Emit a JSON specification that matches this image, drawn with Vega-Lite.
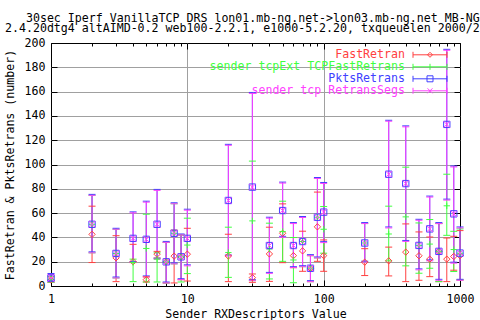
{
  "$schema": "https://vega.github.io/schema/vega-lite/v6.json",
  "width": 409,
  "height": 243,
  "autosize": {"type": "none"},
  "padding": {"left": 51, "top": 43, "right": 20, "bottom": 34},
  "config": {
    "font": "DejaVu Sans Mono",
    "view": {"stroke": "black", "strokeWidth": 1},
    "axis": {
      "labelFont": "DejaVu Sans Mono", "labelFontSize": 11.6, "labelColor": "black",
      "titleFont": "DejaVu Sans Mono", "titleFontSize": 11.6, "titleFontWeight": "normal", "titleColor": "black",
      "tickColor": "black", "tickWidth": 1, "gridColor": "#a0a0a0", "gridWidth": 1, "domain": false,
      "labelFlush": false, "labelOverlap": false, "labelBound": false
    }
  },
  "title": {
    "text": ["\u200b\u00a0\u00a0\u00a030sec Iperf VanillaTCP DRS lon01.mb-ng.net->lon03.mb-ng.net MB-NG", "2.4.20dtg4 altAIMD-0.2 web100-2.2.1, e1000-5.2.20, txqueuelen 2000/2"],
    "anchor": "start", "frame": "group", "dx": -46, "offset": 2,
    "font": "DejaVu Sans Mono", "fontSize": 11.6, "fontWeight": "normal", "color": "black", "lineHeight": 10.7
  },
  "data": {"values": [
    {"x":1,"s":"FastRetran","y":5,"lo":3,"hi":7.5},
    {"x":2,"s":"FastRetran","y":42.5,"lo":19.3,"hi":65.7},
    {"x":3,"s":"FastRetran","y":23.2,"lo":3.6,"hi":41.4},
    {"x":4,"s":"FastRetran","y":20,"lo":19.3,"hi":34.3},
    {"x":5,"s":"FastRetran","y":5.2,"lo":3.3,"hi":7.5},
    {"x":6,"s":"FastRetran","y":26.2,"lo":23,"hi":28.5},
    {"x":7,"s":"FastRetran","y":19.9,"lo":2.5,"hi":35.9},
    {"x":8,"s":"FastRetran","y":24.6,"lo":2.5,"hi":46},
    {"x":9,"s":"FastRetran","y":24,"lo":5.2,"hi":42},
    {"x":10,"s":"FastRetran","y":26.2,"lo":4.1,"hi":47.5},
    {"x":20,"s":"FastRetran","y":24.7,"lo":3.6,"hi":42.6},
    {"x":30,"s":"FastRetran","y":6.9,"lo":3,"hi":9.9},
    {"x":40,"s":"FastRetran","y":26.4,"lo":3.8,"hi":48.4},
    {"x":50,"s":"FastRetran","y":43.4,"lo":19.2,"hi":67.6},
    {"x":60,"s":"FastRetran","y":25,"lo":15.1,"hi":39.9},
    {"x":70,"s":"FastRetran","y":28.9,"lo":12.1,"hi":45.1},
    {"x":80,"s":"FastRetran","y":14.6,"lo":3.6,"hi":25},
    {"x":90,"s":"FastRetran","y":48.7,"lo":20.3,"hi":77.3},
    {"x":100,"s":"FastRetran","y":25,"lo":12.1,"hi":37.9},
    {"x":200,"s":"FastRetran","y":19.6,"lo":8.6,"hi":30.7},
    {"x":300,"s":"FastRetran","y":20.7,"lo":8.3,"hi":32},
    {"x":400,"s":"FastRetran","y":27.9,"lo":3.6,"hi":51.1},
    {"x":500,"s":"FastRetran","y":24.9,"lo":4.7,"hi":44.5},
    {"x":600,"s":"FastRetran","y":22.1,"lo":7.7,"hi":40.3},
    {"x":700,"s":"FastRetran","y":28.5,"lo":3.6,"hi":51.4},
    {"x":800,"s":"FastRetran","y":22.1,"lo":3.6,"hi":39.5},
    {"x":900,"s":"FastRetran","y":24.3,"lo":13,"hi":40.9},
    {"x":1000,"s":"FastRetran","y":25,"lo":5,"hi":45.6},

    {"x":1,"s":"sender tcpExt TCPFastRetrans","y":5.5,"lo":3,"hi":8},
    {"x":2,"s":"sender tcpExt TCPFastRetrans","y":50.8,"lo":27.3,"hi":74.6},
    {"x":3,"s":"sender tcpExt TCPFastRetrans","y":26.8,"lo":6.6,"hi":46.7},
    {"x":4,"s":"sender tcpExt TCPFastRetrans","y":19.3,"lo":3.6,"hi":22.1},
    {"x":5,"s":"sender tcpExt TCPFastRetrans","y":30.9,"lo":3.3,"hi":59.1},
    {"x":6,"s":"sender tcpExt TCPFastRetrans","y":22.1,"lo":3.3,"hi":27.3},
    {"x":7,"s":"sender tcpExt TCPFastRetrans","y":19.9,"lo":2.5,"hi":35.9},
    {"x":8,"s":"sender tcpExt TCPFastRetrans","y":43.4,"lo":18.2,"hi":67.7},
    {"x":9,"s":"sender tcpExt TCPFastRetrans","y":24,"lo":3.3,"hi":42},
    {"x":10,"s":"sender tcpExt TCPFastRetrans","y":33.7,"lo":10.2,"hi":55.8},
    {"x":20,"s":"sender tcpExt TCPFastRetrans","y":27.5,"lo":7.1,"hi":48.4},
    {"x":30,"s":"sender tcpExt TCPFastRetrans","y":53.6,"lo":4.4,"hi":102.8},
    {"x":40,"s":"sender tcpExt TCPFastRetrans","y":30.5,"lo":5.8,"hi":51.7},
    {"x":50,"s":"sender tcpExt TCPFastRetrans","y":44.8,"lo":20.3,"hi":69.8},
    {"x":60,"s":"sender tcpExt TCPFastRetrans","y":21.4,"lo":2.7,"hi":39.9},
    {"x":70,"s":"sender tcpExt TCPFastRetrans","y":36.6,"lo":15.9,"hi":56.4},
    {"x":80,"s":"sender tcpExt TCPFastRetrans","y":14.6,"lo":3.6,"hi":25},
    {"x":90,"s":"sender tcpExt TCPFastRetrans","y":56.6,"lo":23.1,"hi":88.5},
    {"x":100,"s":"sender tcpExt TCPFastRetrans","y":46.7,"lo":27,"hi":65.4},
    {"x":200,"s":"sender tcpExt TCPFastRetrans","y":35.4,"lo":19.6,"hi":51.4},
    {"x":300,"s":"sender tcpExt TCPFastRetrans","y":42.8,"lo":20.7,"hi":65.7},
    {"x":400,"s":"sender tcpExt TCPFastRetrans","y":56.9,"lo":16.6,"hi":97.8},
    {"x":500,"s":"sender tcpExt TCPFastRetrans","y":33.4,"lo":10.5,"hi":51.9},
    {"x":600,"s":"sender tcpExt TCPFastRetrans","y":34.5,"lo":14.6,"hi":54.7},
    {"x":700,"s":"sender tcpExt TCPFastRetrans","y":28.5,"lo":3.6,"hi":51.4},
    {"x":800,"s":"sender tcpExt TCPFastRetrans","y":66,"lo":41.7,"hi":92},
    {"x":900,"s":"sender tcpExt TCPFastRetrans","y":30,"lo":11.9,"hi":45},
    {"x":1000,"s":"sender tcpExt TCPFastRetrans","y":27,"lo":5,"hi":47},

    {"x":1,"s":"PktsRetrans","y":6.5,"lo":4.3,"hi":10.3},
    {"x":2,"s":"PktsRetrans","y":50.8,"lo":28.1,"hi":75.4},
    {"x":3,"s":"PktsRetrans","y":26.8,"lo":7.4,"hi":47.5},
    {"x":4,"s":"PktsRetrans","y":39.2,"lo":20.1,"hi":61},
    {"x":5,"s":"PktsRetrans","y":38.4,"lo":8.3,"hi":69.8},
    {"x":6,"s":"PktsRetrans","y":50.8,"lo":22.9,"hi":79.5},
    {"x":7,"s":"PktsRetrans","y":19.9,"lo":3.3,"hi":36.7},
    {"x":8,"s":"PktsRetrans","y":43.4,"lo":19,"hi":68.5},
    {"x":9,"s":"PktsRetrans","y":24,"lo":6,"hi":42.8},
    {"x":10,"s":"PktsRetrans","y":39.2,"lo":17.4,"hi":63.2},
    {"x":20,"s":"PktsRetrans","y":70.4,"lo":25.5,"hi":116.6},
    {"x":30,"s":"PktsRetrans","y":81.4,"lo":5.2,"hi":159.3},
    {"x":40,"s":"PktsRetrans","y":33.3,"lo":11.2,"hi":56.6},
    {"x":50,"s":"PktsRetrans","y":62.1,"lo":40.9,"hi":85.5},
    {"x":60,"s":"PktsRetrans","y":33.3,"lo":15.9,"hi":52.2},
    {"x":70,"s":"PktsRetrans","y":36.6,"lo":16.7,"hi":57.2},
    {"x":80,"s":"PktsRetrans","y":14.6,"lo":4.4,"hi":25.8},
    {"x":90,"s":"PktsRetrans","y":56.6,"lo":23.9,"hi":89.3},
    {"x":100,"s":"PktsRetrans","y":60.8,"lo":36.5,"hi":85.2},
    {"x":200,"s":"PktsRetrans","y":35.4,"lo":20.4,"hi":52.2},
    {"x":300,"s":"PktsRetrans","y":92,"lo":48.6,"hi":136.4},
    {"x":400,"s":"PktsRetrans","y":84.3,"lo":37.5,"hi":131.8},
    {"x":500,"s":"PktsRetrans","y":33.4,"lo":14.1,"hi":54.9},
    {"x":600,"s":"PktsRetrans","y":47,"lo":21.5,"hi":74},
    {"x":700,"s":"PktsRetrans","y":28.5,"lo":5.5,"hi":52.2},
    {"x":800,"s":"PktsRetrans","y":133,"lo":71.5,"hi":194.8},
    {"x":900,"s":"PktsRetrans","y":59.4,"lo":19.6,"hi":98.8},
    {"x":1000,"s":"PktsRetrans","y":27.1,"lo":5.5,"hi":48.6},

    {"x":1,"s":"sender tcp RetransSegs","y":6.5,"lo":3.5,"hi":9.5},
    {"x":2,"s":"sender tcp RetransSegs","y":50.8,"lo":27.3,"hi":74.6},
    {"x":3,"s":"sender tcp RetransSegs","y":26.8,"lo":6.6,"hi":46.7},
    {"x":4,"s":"sender tcp RetransSegs","y":39.2,"lo":19.3,"hi":60.2},
    {"x":5,"s":"sender tcp RetransSegs","y":38.4,"lo":7.5,"hi":69},
    {"x":6,"s":"sender tcp RetransSegs","y":50.8,"lo":22.1,"hi":78.7},
    {"x":7,"s":"sender tcp RetransSegs","y":19.9,"lo":2.5,"hi":35.9},
    {"x":8,"s":"sender tcp RetransSegs","y":43.4,"lo":18.2,"hi":67.7},
    {"x":9,"s":"sender tcp RetransSegs","y":24,"lo":5.2,"hi":42},
    {"x":10,"s":"sender tcp RetransSegs","y":39.2,"lo":16.6,"hi":62.4},
    {"x":20,"s":"sender tcp RetransSegs","y":70.4,"lo":24.7,"hi":115.8},
    {"x":30,"s":"sender tcp RetransSegs","y":81.4,"lo":4.4,"hi":158.5},
    {"x":40,"s":"sender tcp RetransSegs","y":33.3,"lo":10.4,"hi":55.8},
    {"x":50,"s":"sender tcp RetransSegs","y":62.1,"lo":40.1,"hi":84.7},
    {"x":60,"s":"sender tcp RetransSegs","y":33.3,"lo":15.1,"hi":51.4},
    {"x":70,"s":"sender tcp RetransSegs","y":36.6,"lo":15.9,"hi":56.4},
    {"x":80,"s":"sender tcp RetransSegs","y":14.6,"lo":3.6,"hi":25},
    {"x":90,"s":"sender tcp RetransSegs","y":56.6,"lo":23.1,"hi":88.5},
    {"x":100,"s":"sender tcp RetransSegs","y":60.8,"lo":35.7,"hi":84.4},
    {"x":200,"s":"sender tcp RetransSegs","y":35.4,"lo":19.6,"hi":51.4},
    {"x":300,"s":"sender tcp RetransSegs","y":92,"lo":47.8,"hi":135.6},
    {"x":400,"s":"sender tcp RetransSegs","y":84.3,"lo":36.7,"hi":131},
    {"x":500,"s":"sender tcp RetransSegs","y":33.4,"lo":13.3,"hi":54.1},
    {"x":600,"s":"sender tcp RetransSegs","y":47,"lo":20.7,"hi":73.2},
    {"x":700,"s":"sender tcp RetransSegs","y":28.5,"lo":4.7,"hi":51.4},
    {"x":800,"s":"sender tcp RetransSegs","y":133,"lo":70.7,"hi":194},
    {"x":900,"s":"sender tcp RetransSegs","y":59.4,"lo":18.8,"hi":98},
    {"x":1000,"s":"sender tcp RetransSegs","y":27.1,"lo":4.7,"hi":47.8}
  ]},
  "layer": [
    {
      "mark": {"type": "rule", "strokeWidth": 1},
      "encoding": {
        "x": {"field": "x", "type": "quantitative",
          "scale": {"type": "log", "domain": [1, 1000], "nice": false},
          "axis": {
            "title": "Sender RXDescriptors Value", "orient": "bottom",
            "values": [1,2,3,4,5,6,7,8,9,10,20,30,40,50,60,70,80,90,100,200,300,400,500,600,700,800,900,1000],
            "format": "d",
            "labelExpr": "(datum.value == 1 || datum.value == 10 || datum.value == 100 || datum.value == 1000) ? datum.label : ''",
            "tickSize": {"condition": {"test": "datum.value == 1 || datum.value == 10 || datum.value == 100 || datum.value == 1000", "value": -6}, "value": -3},
            "labelPadding": 13,
            "grid": true,
            "gridOpacity": {"condition": {"test": "datum.value == 10 || datum.value == 100", "value": 1}, "value": 0},
            "titleX": 204.5, "titleY": 31, "titleAlign": "center", "titleBaseline": "alphabetic"
          }
        },
        "y": {"field": "lo", "type": "quantitative",
          "scale": {"domain": [0, 200], "nice": false},
          "axis": {
            "title": "FastRetran & PktsRetrans (number)", "orient": "left",
            "values": [0,20,40,60,80,100,120,140,160,180,200],
            "tickSize": -6, "labelPadding": 12, "grid": true,
            "gridOpacity": {"condition": {"test": "datum.value == 0 || datum.value == 200", "value": 0}, "value": 1},
            "titleX": -37.5, "titleY": 121.5, "titleAngle": -90, "titleAlign": "center", "titleBaseline": "alphabetic"
          }
        },
        "y2": {"field": "hi"},
        "color": {
          "field": "s", "type": "nominal",
          "scale": {
            "domain": ["FastRetran", "sender tcpExt TCPFastRetrans", "PktsRetrans", "sender tcp RetransSegs"],
            "range": ["#ff4040", "#40ff40", "#4040ff", "#ff40ff"]
          },
          "legend": {
            "title": null, "orient": "none", "legendX": 379, "legendY": 6, "padding": 0, "rowPadding": -4,
            "labelFont": "DejaVu Sans Mono", "labelFontSize": 11.6, "symbolSize": 100, "labelLimit": 400,
            "encode": {
              "symbols": {"update": {
                "shape": {"signal": "datum.value === 'FastRetran' ? 'M-3.4,0H3.4M-3.4,-0.6V0.6M3.4,-0.6V0.6M0,-0.5L0.5,0L0,0.5L-0.5,0Z' : datum.value === 'sender tcpExt TCPFastRetrans' ? 'M-3.4,0H3.4M-3.4,-0.6V0.6M3.4,-0.6V0.6M0,-0.6V0.6' : datum.value === 'PktsRetrans' ? 'M-3.4,0H3.4M-3.4,-0.6V0.6M3.4,-0.6V0.6M-0.6,-0.6H0.6V0.6H-0.6Z' : 'M-3.4,0H3.4M-3.4,-0.6V0.6M3.4,-0.6V0.6M-0.5,-0.5L0.5,0.5M0.5,-0.5L-0.5,0.5'"},
                "fill": {"value": "transparent"},
                "strokeWidth": {"value": 1},
                "size": {"value": 100},
                "opacity": {"value": 1},
                "x": {"value": 0}
              }},
              "labels": {"update": {
                "fill": {"scale": "color", "field": "value"},
                "align": {"value": "right"},
                "x": {"value": -25}
              }}
            }
          }
        }
      }
    },
    {
      "mark": {"type": "rule", "strokeWidth": 1, "xOffset": -3.5, "x2Offset": 3.5},
      "encoding": {
        "x": {"field": "x", "type": "quantitative", "axis": null},
        "x2": {"field": "x"},
        "y": {"field": "lo", "type": "quantitative", "axis": null},
        "color": {"field": "s", "type": "nominal", "legend": null}
      }
    },
    {
      "mark": {"type": "rule", "strokeWidth": 1, "xOffset": -3.5, "x2Offset": 3.5},
      "encoding": {
        "x": {"field": "x", "type": "quantitative", "axis": null},
        "x2": {"field": "x"},
        "y": {"field": "hi", "type": "quantitative", "axis": null},
        "color": {"field": "s", "type": "nominal", "legend": null}
      }
    },
    {
      "mark": {"type": "point", "filled": false, "strokeWidth": 1, "size": 40, "opacity": 1},
      "encoding": {
        "x": {"field": "x", "type": "quantitative",
          "scale": {"type": "log", "domain": [1, 1000], "nice": false},
          "axis": {
            "orient": "top", "title": null, "labels": false, "grid": false,
            "values": [1,2,3,4,5,6,7,8,9,10,20,30,40,50,60,70,80,90,100,200,300,400,500,600,700,800,900,1000],
            "tickSize": {"condition": {"test": "datum.value == 1 || datum.value == 10 || datum.value == 100 || datum.value == 1000", "value": -6}, "value": -3}
          }
        },
        "y": {"field": "y", "type": "quantitative",
          "scale": {"domain": [0, 200], "nice": false},
          "axis": {
            "orient": "right", "title": null, "labels": false, "grid": false,
            "values": [0,20,40,60,80,100,120,140,160,180,200], "tickSize": -6
          }
        },
        "color": {"field": "s", "type": "nominal", "legend": null},
        "shape": {"field": "s", "type": "nominal", "legend": null,
          "scale": {
            "domain": ["sender tcp RetransSegs", "PktsRetrans", "sender tcpExt TCPFastRetrans", "FastRetran"],
            "range": ["M-1,-1L1,1M1,-1L-1,1", "M-1,-1H1V1H-1Z", "M-1,0H1M0,-1V1", "M0,-1L1,0L0,1L-1,0Z"]
          }
        }
      }
    }
  ],
  "resolve": {"axis": {"x": "independent", "y": "independent"}}
}
